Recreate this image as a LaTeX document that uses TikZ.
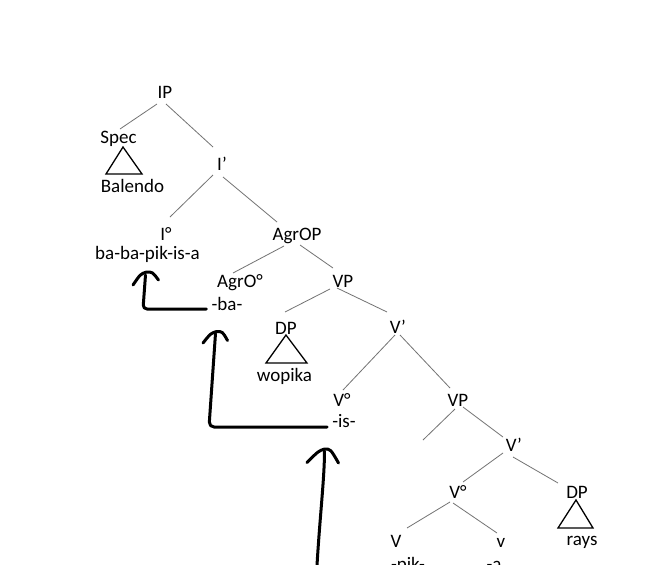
\documentclass[tikz,border=0pt]{standalone}
\usepackage{fontspec}
\setmainfont{Carlito}
\usetikzlibrary{calc}
\begin{document}
\begin{tikzpicture}[x=1pt,y=-1pt,
  lbl/.style={inner sep=0pt, anchor=base, font=\fontsize{19}{22}\selectfont, text=black},
  branch/.style={draw=black!55, line width=0.8pt},
  tri/.style={draw=black, line width=1.3pt, line join=miter},
  move/.style={draw=black, line width=3pt, line cap=round, line join=round},
]
\useasboundingbox (0,0) rectangle (646,565);
\clip (0,0) rectangle (646,565);
\fill[white] (0,0) rectangle (646,565);

% labels of the tree
\node[lbl] (IP)    at (165,98)    {IP};
\node[lbl] (Spec)  at (118.5,143) {Spec};
\node[lbl] (Bal)   at (132.5,192) {Balendo};
\node[lbl] (Ip)    at (222,170)   {I’};
\node[lbl] (Io)    at (166,240)   {I°};
\node[lbl] (bapik) at (147.5,259) {ba-ba-pik-is-a};
\node[lbl] (AgrOP) at (297,240)   {AgrOP};
\node[lbl] (AgrOo) at (240,287)   {AgrO°};
\node[lbl] (ba)    at (227,310)   {-ba-};
\node[lbl] (VPa)   at (343,287)   {VP};
\node[lbl] (DPa)   at (286,334)   {DP};
\node[lbl] (wop)   at (284.5,381) {wopika};
\node[lbl] (Vpa)   at (398,333)   {V’};
\node[lbl] (Voa)   at (342,406)   {V°};
\node[lbl] (is)    at (344,427)   {-is-};
\node[lbl] (VPb)   at (458,406)   {VP};
\node[lbl] (Vpb)   at (514,451)   {V’};
\node[lbl] (Vob)   at (458,498)   {V°};
\node[lbl] (DPb)   at (577,498)   {DP};
\node[lbl] (rays)  at (582,545)   {rays};
\node[lbl] (V)     at (396,547)   {V};
\node[lbl] (v)     at (501,547)   {v};
\node[lbl] (pik)   at (408,570)   {-pik-};
\node[lbl] (a)     at (494,570)   {-a};

% empty specifier of the lower VP
\coordinate (empty) at ($(VPb.base)+(-35,34)$);

% branches
\draw[branch] ($(IP.base)+(-8,6)$)     -- ($(Spec.base)+(1.5,-14)$);
\draw[branch] ($(IP.base)+(1,6)$)      -- ($(Ip.base)+(-9,-23)$);
\draw[branch] ($(Ip.base)+(-9,5)$)     -- ($(Io.base)+(4,-23)$);
\draw[branch] ($(Ip.base)+(1,7)$)      -- ($(AgrOP.base)+(-20,-18)$);
\draw[branch] ($(AgrOP.base)+(-13,6)$) -- ($(AgrOo.base)+(-7,-14)$);
\draw[branch] ($(AgrOP.base)+(3,5)$)   -- ($(VPa.base)+(-10,-19)$);
\draw[branch] ($(VPa.base)+(-13,2)$)   -- ($(DPa.base)+(-1,-22)$);
\draw[branch] ($(VPa.base)+(-6,1)$)    -- ($(Vpa.base)+(-11,-21)$);
\draw[branch] ($(Vpa.base)+(-3,2)$)    -- ($(Voa.base)+(1,-16)$);
\draw[branch] ($(Vpa.base)+(2,2)$)     -- ($(VPb.base)+(-8,-18)$);
\draw[branch] ($(VPb.base)+(-3,3)$)    -- (empty);
\draw[branch] ($(VPb.base)+(5,1)$)     -- ($(Vpb.base)+(-11,-14)$);
\draw[branch] ($(Vpb.base)+(-11,2)$)   -- ($(Vob.base)+(5,-16)$);
\draw[branch] ($(Vpb.base)+(-1,6)$)    -- ($(DPb.base)+(-19,-15)$);
\draw[branch] ($(Vob.base)+(-8,4)$)    -- ($(V.base)+(11,-19)$);
\draw[branch] ($(Vob.base)+(-5,5)$)    -- ($(v.base)+(-4,-14)$);

% triangles over unanalysed phrases
\draw[tri] ($(Spec.base)+(4.5,4)$) -- ($(Spec.base)+(-12.5,31)$) -- ($(Spec.base)+(23.5,31)$) -- cycle;
\draw[tri] ($(DPa.base)+(0,1)$)    -- ($(DPa.base)+(-20,29)$)    -- ($(DPa.base)+(21,29)$)    -- cycle;
\draw[tri] ($(DPb.base)+(-1,2)$)   -- ($(DPb.base)+(-19,30)$)    -- ($(DPb.base)+(16,30)$)    -- cycle;

% head movement arrows
\coordinate (tipA) at ($(bapik.base)+(-1,13)$);
\coordinate (tipB) at ($(ba.base)+(-10.5,21.5)$);
\coordinate (tipC) at ($(is.base)+(-19.5,22)$);
\coordinate (fromC) at ($(tipC)+(-8,125)$);

\draw[move, rounded corners=4pt] ($(ba.base west)+(-5,-1)$) -- ($(tipA)+(-3.5,37)$) -- ($(tipA)+(-1,3)$);
\draw[move, rounded corners=5pt] ($(is.base west)+(-5,0)$) -- ($(tipB)+(-7.5,95.5)$) -- ($(tipB)+(-1,2)$);
\draw[move] (fromC) .. controls ($(tipC)+(-5,70)$) and ($(tipC)+(0,30)$) .. ($(tipC)+(0,2)$);

\foreach \t/\lx/\ly/\rx/\ry in {tipA/-13.5/13/12/8, tipB/-13.5/11.5/11/9, tipC/-17.5/13.5/14/14}{
  \draw[move] ($(\t)+(\lx,\ly)$) .. controls ($(\t)+(-6,2)$) .. (\t) .. controls ($(\t)+(6,0)$) .. ($(\t)+(\rx,\ry)$);
}
\end{tikzpicture}
\end{document}
